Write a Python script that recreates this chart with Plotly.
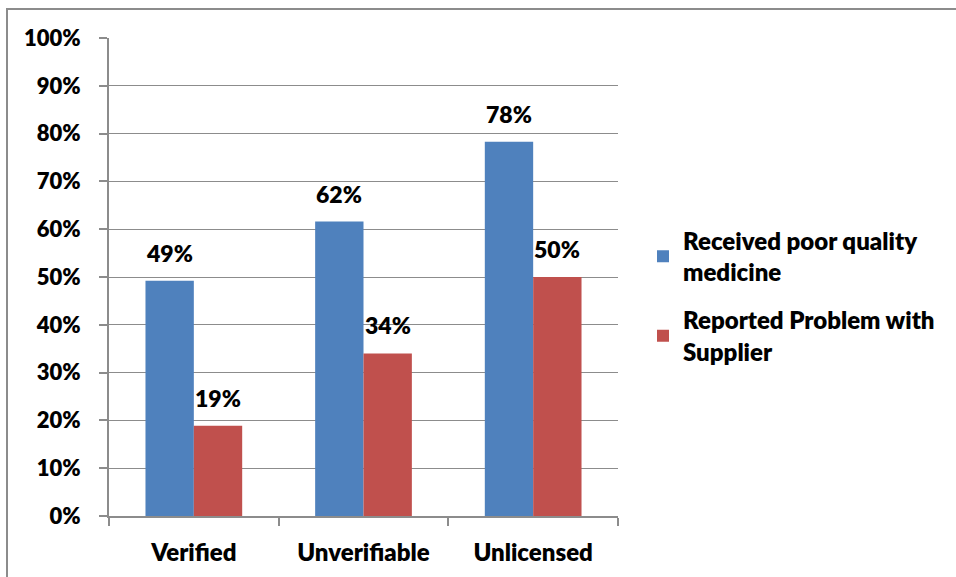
import plotly.graph_objects as go

categories = ["Verified", "Unverifiable", "Unlicensed"]
received_poor = [0.492, 0.616, 0.783]
reported_problem = [0.189, 0.340, 0.500]
series_names = ["Received poor quality<br>medicine", "Reported Problem with<br>Supplier"]
y_ticks = [0, 0.1, 0.2, 0.3, 0.4, 0.5, 0.6, 0.7, 0.8, 0.9, 1.0]
y_tick_labels = ["0%", "10%", "20%", "30%", "40%", "50%", "60%", "70%", "80%", "90%", "100%"]

BLUE = "#4F81BD"
RED = "#C0504D"
GRID = "#8C8C8C"
FAM = "Lato, Carlito, Arial"
NUM_FONT = dict(family=FAM, size=22, color="#000000", weight=800)
TXT_FONT = dict(family=FAM, size=24, color="#000000", weight=800)

W, H = 956, 577
L, R, T, B = 109, 338, 38, 61
pw, ph = W - L - R, H - T - B

fig = go.Figure()
fig.add_trace(go.Bar(x=categories, y=received_poor, name=series_names[0],
                     legendgroup="g1",
                     marker=dict(color=BLUE, line=dict(width=0))))
fig.add_trace(go.Bar(x=categories, y=reported_problem, name=series_names[1],
                     legendgroup="g2",
                     marker=dict(color=RED, line=dict(width=0))))

bar_px = pw / 3 * 0.285
for vals, shift in ((received_poor, -bar_px / 2), (reported_problem, bar_px / 2)):
    for c, v in zip(categories, vals):
        fig.add_annotation(x=c, y=v, text=f"{v*100:.0f}%", showarrow=False,
                           xshift=shift, yshift=12, yanchor="bottom",
                           font=dict(NUM_FONT, size=23))

# outer border
fig.add_shape(type="rect", xref="paper", yref="paper",
              x0=(7 - L) / pw, x1=(W + 20 - L) / pw,
              y0=(H - B - (H + 20)) / ph, y1=(H - B - 9) / ph,
              line=dict(color="#8C8C8C", width=2), fillcolor="rgba(0,0,0,0)", layer="below")

fig.update_layout(
    width=W, height=H,
    margin=dict(l=L, r=R, t=T, b=B),
    paper_bgcolor="white", plot_bgcolor="white",
    barmode="group", bargap=0.43, bargroupgap=0,
    font=TXT_FONT,
    showlegend=True,
    legend=dict(x=(643 - L) / pw, y=0.46, xanchor="left", yanchor="middle",
                font=TXT_FONT, tracegroupgap=14, itemwidth=30,
                bgcolor="rgba(0,0,0,0)"),
    xaxis=dict(showline=True, linecolor=GRID, linewidth=2, ticks="outside",
               tickson="boundaries", ticklen=8, tickwidth=2, tickcolor=GRID,
               showgrid=False, tickfont=TXT_FONT, ticklabelstandoff=14),
    yaxis=dict(range=[0, 1.0], tickvals=y_ticks, ticktext=y_tick_labels,
               showline=True, linecolor=GRID, linewidth=2, ticks="outside",
               ticklen=8, tickwidth=2, tickcolor=GRID, showgrid=True,
               gridcolor=GRID, gridwidth=1, zeroline=False, tickfont=NUM_FONT,
               ticklabelstandoff=14),
)

fig.write_html("out.html")
